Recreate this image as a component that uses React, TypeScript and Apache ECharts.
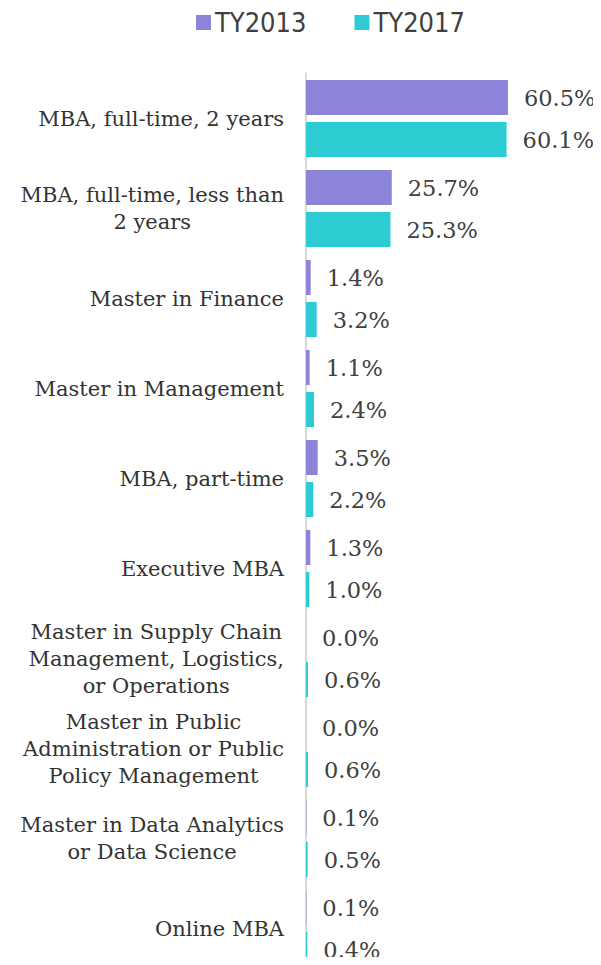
import React, { useEffect, useRef } from "react";
import * as echarts from "echarts";

const categories = [
  "MBA, full-time, 2 years",
  "MBA, full-time, less than\n2 years",
  "Master in Finance",
  "Master in Management",
  "MBA, part-time",
  "Executive MBA",
  "Master in Supply Chain\nManagement, Logistics,\nor Operations",
  "Master in Public\nAdministration or Public\nPolicy Management",
  "Master in Data Analytics\nor Data Science",
  "Online MBA",
];
const ty2013 = [60.5, 25.7, 1.4, 1.1, 3.5, 1.3, 0.0, 0.0, 0.1, 0.1];
const ty2017 = [60.1, 25.3, 3.2, 2.4, 2.2, 1.0, 0.6, 0.6, 0.5, 0.4];
const seriesNames = ["TY2013", "TY2017"];

const SERIF = "'DejaVu Serif', Georgia, serif";

export default function App() {
  const ref = useRef<HTMLDivElement>(null);
  useEffect(() => {
    if (!ref.current) return;
    const chart = echarts.init(ref.current, null, { renderer: "svg" });
    const label = {
      show: true,
      position: "right" as const,
      distance: 16,
      formatter: (p: any) => p.value.toFixed(1) + "%",
      fontFamily: SERIF,
      fontSize: 22.5,
      color: "#404040",
    };
    chart.setOption({
      animation: false,
      backgroundColor: "#ffffff",
      legend: {
        data: seriesNames,
        left: 191,
        top: 4,
        icon: "rect",
        itemWidth: 15,
        itemHeight: 15,
        itemGap: 48,
        textStyle: {
          fontFamily: "'DejaVu Sans Condensed', 'DejaVu Sans', sans-serif",
          fontSize: 27,
          color: "#404040",
          padding: [0, 0, 0, -1],
        },
      },
      grid: {
        left: 306,
        top: 73.5,
        width: 267,
        height: 900,
        containLabel: false,
        outerBoundsMode: "none",
      },
      xAxis: {
        type: "value",
        min: 0,
        max: 80,
        show: false,
      },
      yAxis: {
        type: "category",
        data: categories,
        inverse: true,
        axisLine: { show: true, lineStyle: { color: "#d9d9d9", width: 2 } },
        axisTick: { show: false },
        axisLabel: {
          margin: 22,
          formatter: (v: string) =>
            v
              .split("\n")
              .map((l) => "{c|" + l + "}")
              .join("\n"),
          rich: {
            c: {
              align: "center",
              fontFamily: SERIF,
              fontSize: 21,
              lineHeight: 27,
              color: "#333333",
            },
          },
        },
      },
      series: [
        {
          name: seriesNames[0],
          type: "bar",
          data: ty2013,
          barWidth: 35,
          barGap: "20%",
          itemStyle: { color: "#8b84d8" },
          label,
        },
        {
          name: seriesNames[1],
          type: "bar",
          data: ty2017,
          barWidth: 35,
          barGap: "20%",
          itemStyle: { color: "#2dccd3" },
          label,
        },
      ],
    });
    return () => chart.dispose();
  }, []);
  return <div ref={ref} style={{ width: 601, height: 965, margin: -8 }} />;
}
